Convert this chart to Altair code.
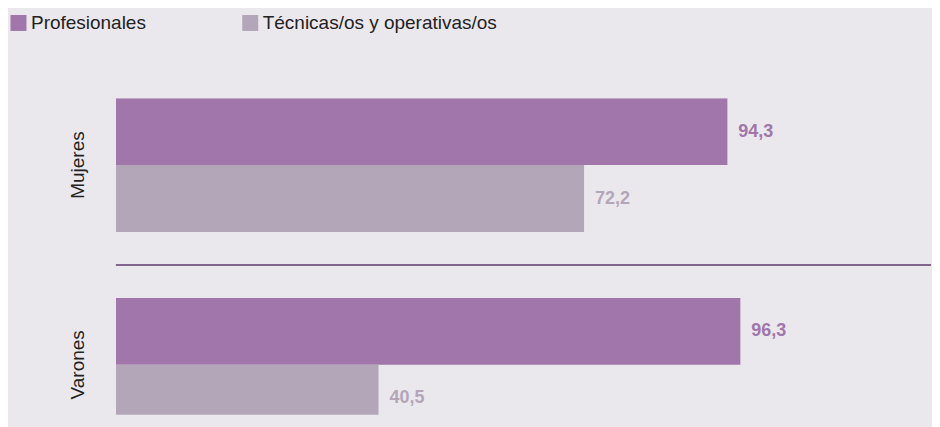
import altair as alt
import pandas as pd

# ---- data ----
grupos_orden = ["Mujeres", "Varones"]
series_orden = ["Profesionales", "Técnicas/os y operativas/os"]
grupo = ["Mujeres", "Mujeres", "Varones", "Varones"]
serie = ["Profesionales", "Técnicas/os y operativas/os",
         "Profesionales", "Técnicas/os y operativas/os"]
valor = [94.3, 72.2, 96.3, 40.5]
colores = ["#a076ab", "#b3a6b8"]
separador = ["Varones"]

df = pd.DataFrame({"grupo": grupo, "serie": serie, "valor": valor})
df_sep = pd.DataFrame({"grupo": separador})

FONT = "Liberation Sans"
W, H = 816, 317

x = alt.X("valor:Q", scale=alt.Scale(domain=[0, 125.7], nice=False, zero=True), axis=None)
y = alt.Y(
    "grupo:N",
    sort=grupos_orden,
    title=None,
    scale=alt.Scale(domain=grupos_orden, paddingInner=0.33, paddingOuter=0,
                    range=[0, 334]),
    axis=alt.Axis(
        labelAngle=270,
        labelAlign="center",
        labelBaseline="bottom",
        labelPadding=28,
        labelFontSize=19,
        labelFont=FONT,
        labelColor="#222222",
        domain=False,
        ticks=False,
        grid=False,
    ),
)
yoff = alt.YOffset(
    "serie:N",
    sort=series_orden,
    scale=alt.Scale(domain=series_orden, paddingInner=0, paddingOuter=0),
)
color = alt.Color(
    "serie:N",
    title=None,
    sort=series_orden,
    scale=alt.Scale(domain=series_orden, range=colores),
)

bars = alt.Chart(df).mark_bar(cornerRadius=0, clip=True).encode(
    x=x, y=y, yOffset=yoff, color=color)

text = (
    alt.Chart(df)
    .transform_calculate(lbl="replace(format(datum.valor, '.1f'), '.', ',')")
    .mark_text(align="left", baseline="middle", dx=11, fontSize=18,
               fontWeight="bold", font=FONT, clip=True)
    .encode(x=x, y=y, yOffset=yoff, text="lbl:N", color=color)
)

sep = (
    alt.Chart(df_sep)
    .mark_rule(color="#5e3d6e", strokeWidth=1.5, yOffset=-33)
    .encode(y=alt.Y("grupo:N", sort=grupos_orden, bandPosition=0, title=None))
)

chart = (
    alt.layer(bars, text, sep)
    .properties(width=W, height=H, background="#ebe8ed",
                padding={"left": 1, "top": 5, "right": 0, "bottom": 0})
    .configure_view(stroke=None)
    .configure_legend(
        orient="none",
        legendX=-107,
        legendY=-85,
        direction="horizontal",
        symbolType="square",
        symbolSize=256,
        symbolStrokeWidth=0,
        symbolOpacity=1,
        labelFontSize=19,
        labelFont=FONT,
        labelColor="#222222",
        labelOffset=3,
        labelLimit=400,
        columnPadding=94,
        padding=0,
    )
)

chart.save("out.html", embed_options={"renderer": "svg", "actions": False})
